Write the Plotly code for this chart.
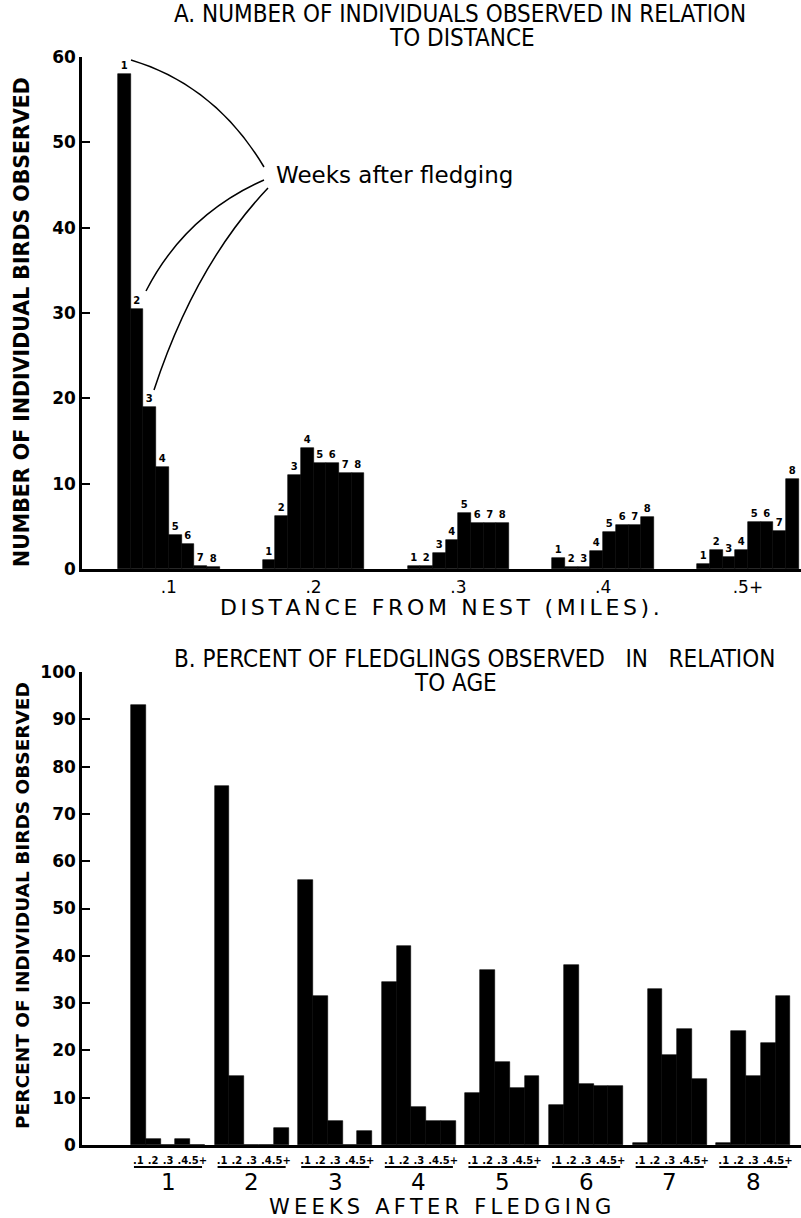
import plotly.graph_objects as go

# ---------------- data ----------------
# Panel A: number of individuals observed, by distance group and week after fledging
dist_labels = [".1", ".2", ".3", ".4", ".5+"]
weeks = [1, 2, 3, 4, 5, 6, 7, 8]
a_d1 = [58, 30.5, 19, 12, 4, 2.9, 0.3, 0.2]
a_d2 = [1, 6.2, 11, 14.2, 12.4, 12.4, 11.2, 11.2]
a_d3 = [0.3, 0.3, 1.9, 3.4, 6.6, 5.4, 5.4, 5.4]
a_d4 = [1.3, 0.2, 0.2, 2.1, 4.3, 5.1, 5.1, 6.1]
a_d5 = [0.6, 2.2, 1.4, 2.2, 5.5, 5.5, 4.5, 10.5]

# Panel B: percent of fledglings observed, by week and distance
b_w1 = [93, 1.2, 0, 1.2, 0]
b_w2 = [76, 14.5, 0, 0, 3.5]
b_w3 = [56, 31.5, 5, 0, 3]
b_w4 = [34.5, 42, 8, 5, 5]
b_w5 = [11, 37, 17.5, 12, 14.5]
b_w6 = [8.5, 38, 13, 12.5, 12.5]
b_w7 = [0.5, 33, 19, 24.5, 14]
b_w8 = [0.5, 24, 14.5, 21.5, 31.5]

a_ticks_y = [0, 10, 20, 30, 40, 50, 60]
b_ticks_y = [0, 10, 20, 30, 40, 50, 60, 70, 80, 90, 100]

W, H = 801, 1218
NARROW = "Liberation Sans Narrow, DejaVu Sans Condensed, Arial Narrow, sans-serif"
BOLD = "DejaVu Sans, Liberation Sans, sans-serif"

def px(x):
    return x / W

def py(y):
    return 1 - y / H

def spaced(s, sep):
    return sep.join(s)

# ---------------- layout positions ----------------
A_GAP = 11.4   # group spacing in bar widths (panel A)
B_GAP = 5.65   # group spacing in bar widths (panel B)

a_groups = [a_d1, a_d2, a_d3, a_d4, a_d5]
a_x, a_y, a_t = [], [], []
for g, vals in enumerate(a_groups):
    for w, v in enumerate(vals):
        a_x.append(g * A_GAP + w)
        a_y.append(v)
        a_t.append(str(weeks[w]))

b_groups = [b_w1, b_w2, b_w3, b_w4, b_w5, b_w6, b_w7, b_w8]
b_x, b_y, b_tick = [], [], []
for g, vals in enumerate(b_groups):
    for d, v in enumerate(vals):
        b_x.append(g * B_GAP + d)
        b_y.append(v)
        b_tick.append(dist_labels[d])

fig = go.Figure()
fig.add_trace(go.Bar(
    x=a_x, y=a_y, width=1.0, text=a_t, textposition="outside",
    constraintext="none", cliponaxis=False,
    textfont=dict(family=BOLD, size=10, color="black", weight="bold"),
    marker=dict(color="black", line=dict(color="black", width=0.6)),
    xaxis="x", yaxis="y", showlegend=False, hoverinfo="x+y"))
fig.add_trace(go.Bar(
    x=b_x, y=b_y, width=1.0,
    marker=dict(color="black", line=dict(color="black", width=0.6)),
    xaxis="x2", yaxis="y2", showlegend=False, hoverinfo="x+y"))

AX_L = 82
AX_R = 801
a_px_per = 12.7
a_start = -0.5 - (118 - AX_L) / a_px_per
a_end = a_start + (AX_R - AX_L) / a_px_per
b_px_per = 14.8
b_start = -0.5 - (131 - AX_L) / b_px_per
b_end = b_start + (AX_R - AX_L) / b_px_per

axis_common = dict(showgrid=False, zeroline=False, showline=True,
                   linecolor="black", automargin=False)

fig.update_layout(
    width=W, height=H,
    margin=dict(l=0, r=0, t=0, b=0, pad=0, autoexpand=False),
    paper_bgcolor="white", plot_bgcolor="white", bargap=0,
    xaxis=dict(domain=[px(AX_L), 1.0], range=[a_start, a_end], anchor="y",
               tickvals=[g * A_GAP + 3.5 for g in range(5)],
               ticktext=dist_labels, ticks="", linewidth=2.5,
               ticklabelstandoff=1,
               tickfont=dict(family=BOLD, size=17, color="black"),
               **axis_common),
    yaxis=dict(domain=[py(569), py(57)], range=[0, 60], anchor="x",
               tickvals=a_ticks_y, ticks="inside", ticklen=8, tickwidth=2,
               linewidth=2.5, tickcolor="black",
               tickfont=dict(family=BOLD, size=17, color="black", weight="bold"),
               **axis_common),
    xaxis2=dict(domain=[px(AX_L), 1.0], range=[b_start, b_end], anchor="y2",
                tickvals=b_x, ticktext=b_tick, ticks="", linewidth=2.5,
                tickangle=0, ticklabelstandoff=4,
                tickfont=dict(family=BOLD, size=10, color="black", weight="bold"),
                **axis_common),
    yaxis2=dict(domain=[py(1145), py(672)], range=[0, 100], anchor="x2",
                tickvals=b_ticks_y, ticks="inside", ticklen=8, tickwidth=2,
                linewidth=2.5, tickcolor="black",
                tickfont=dict(family=BOLD, size=17, color="black", weight="bold"),
                **axis_common),
)

ann = []
def text(x, y, s, size, family=NARROW, angle=0, weight="normal", xanchor="center"):
    ann.append(dict(x=px(x), y=py(y), xref="paper", yref="paper", text=s,
                    showarrow=False, textangle=angle, xanchor=xanchor,
                    yanchor="middle",
                    font=dict(family=family, size=size, color="black", weight=weight)))

THIN = "\u2009"
SIXTH = "\u2006"

text(460, 14, "A. NUMBER OF INDIVIDUALS OBSERVED IN RELATION", 24)
text(462, 38, "TO DISTANCE", 24)
text(440, 607, spaced("DISTANCE FROM NEST (MILES).", SIXTH), 22, family=BOLD)
text(22, 322, "NUMBER OF INDIVIDUAL BIRDS OBSERVED", 20.5, family=BOLD, angle=-90, weight="bold")
text(394, 175, "Weeks after fledging", 23, family=BOLD)

text(474, 659, "B. PERCENT OF FLEDGLINGS OBSERVED&nbsp;&nbsp;&nbsp;IN&nbsp;&nbsp;&nbsp;RELATION", 24)
text(455, 683, "TO AGE", 24)
text(22, 906, "PERCENT OF INDIVIDUAL BIRDS OBSERVED", 18.5, family=BOLD, angle=-90, weight="bold")
text(440, 1207, spaced("WEEKS AFTER FLEDGING", THIN), 21, family=BOLD)

# week numbers under panel B groups
for g, wk in enumerate(weeks):
    ann.append(dict(x=g * B_GAP + 2, y=py(1182), xref="x2", yref="paper",
                    text=str(wk), showarrow=False, yanchor="middle",
                    font=dict(family=BOLD, size=23, color="black")))

shapes = []
for g in range(len(weeks)):
    shapes.append(dict(type="line", xref="x2", yref="paper",
                       x0=g * B_GAP - 0.3, x1=g * B_GAP + 4.3,
                       y0=py(1167), y1=py(1167),
                       line=dict(color="black", width=2)))

# leader curves from the annotation to the week labels
def curve(p0, c, p1):
    return dict(type="path", xref="paper", yref="paper",
                path=f"M {px(p0[0])},{py(p0[1])} Q {px(c[0])},{py(c[1])} {px(p1[0])},{py(p1[1])}",
                line=dict(color="black", width=1.5))

shapes.append(curve((131, 60), (215, 85), (264, 167)))
shapes.append(curve((146, 291), (185, 215), (264, 180)))
shapes.append(curve((154, 390), (195, 265), (268, 188)))

fig.update_layout(annotations=ann, shapes=shapes)

fig.write_html("out.html", config={"displayModeBar": False},
               post_script="document.body.style.margin='0';document.body.style.overflow='hidden';")
